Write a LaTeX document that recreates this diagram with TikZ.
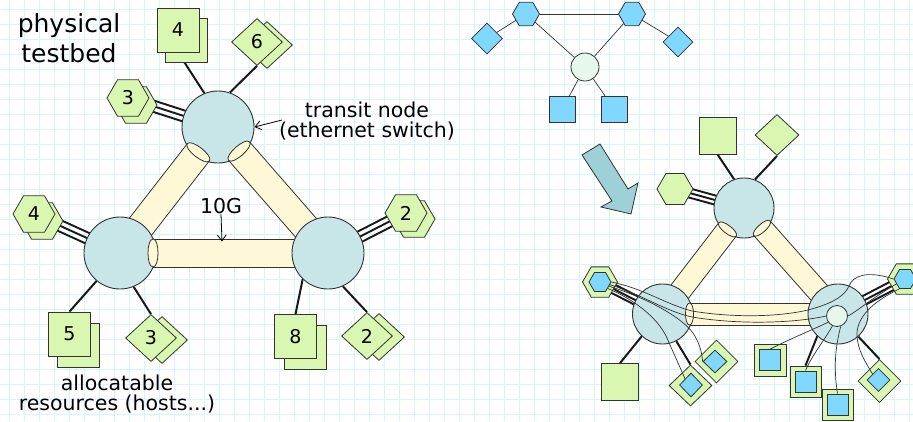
\documentclass[tikz,border=0pt]{standalone}
\usepackage{fontspec}
\setmainfont{DejaVu Sans}
\usetikzlibrary{shapes.geometric,shadows,calc,arrows.meta}
\definecolor{lc}{RGB}{51,51,51}
\definecolor{swfill}{RGB}{200,230,232}
\definecolor{tubec}{RGB}{255,248,214}
\definecolor{hgreen}{RGB}{217,247,176}
\definecolor{hblue}{RGB}{128,216,255}
\definecolor{vgreen}{RGB}{230,248,236}
\definecolor{arrowc}{RGB}{158,208,216}
\definecolor{gridc}{RGB}{214,246,250}
\pgfdeclarelayer{gridl}
\pgfdeclarelayer{edges}
\pgfdeclarelayer{swa}
\pgfdeclarelayer{tba}
\pgfdeclarelayer{swb}
\pgfdeclarelayer{tbb}
\pgfsetlayers{gridl,edges,swa,tba,swb,tbb,main}

\newcommand\tubeseg[6]{%
  \fill[tubefill] ($(#1)!#3!(#2)!#4!90:(#2)$) -- ($(#2)!#4!-90:(#1)$) -- ($(#2)!#4!90:(#1)$) -- ($(#1)!#3!(#2)!#4!-90:(#2)$) -- cycle;
  \draw[tubeline] ($(#1)!#3!(#2)!#4!90:(#2)$) -- ($(#2)!#4!-90:(#1)$);
  \draw[tubeline] ($(#1)!#3!(#2)!#4!-90:(#2)$) -- ($(#2)!#4!90:(#1)$);
  \filldraw[tubefill,tubeline] ($(#1)!#3!(#2)!#4!90:(#2)$)
     .. controls ($(#1)!#5!(#2)!#4!90:(#2)$) and ($(#1)!#5!(#2)!#4!-90:(#2)$) .. ($(#1)!#3!(#2)!#4!-90:(#2)$)
     .. controls ($(#1)!#6!(#2)!#4!-90:(#2)$) and ($(#1)!#6!(#2)!#4!90:(#2)$) .. ($(#1)!#3!(#2)!#4!90:(#2)$) -- cycle;
}
\newcommand\tripleline[3]{%
  \draw[tri] ($(#1)!#3!90:(#2)$) -- ($(#2)!#3!-90:(#1)$);
  \draw[tri] (#1.center) -- (#2.center);
  \draw[tri] ($(#1)!#3!-90:(#2)$) -- ($(#2)!#3!90:(#1)$);%
}

\begin{document}
\begin{tikzpicture}[x=1pt,y=-1pt,
  sw/.style={circle, draw=lc, fill=swfill, line width=0.9pt, inner sep=0pt, minimum size=72pt},
  swsmall/.style={sw, minimum size=60pt},
  tubefill/.style={fill=tubec},
  tubeline/.style={draw=lc, line width=0.8pt},
  host/.style={draw=lc, fill=hgreen, line width=0.8pt, inner sep=0pt, font=\fontsize{19}{22}\selectfont},
  hsq/.style={host, rectangle, minimum width=42pt, minimum height=44pt},
  hdm/.style={host, diamond, minimum width=51pt, minimum height=47pt},
  hhx/.style={host, regular polygon, regular polygon sides=6, minimum size=42pt},
  hstack/.style args={#1/#2}{copy shadow={shadow xshift=#1pt, shadow yshift=-#2pt, fill=hgreen, draw=lc, line width=0.8pt}},
  hlink/.style={line width=2pt, draw=black!90},
  tri/.style={line width=1.9pt, draw=black!90},
  vlink/.style={draw=lc, line width=0.7pt},
  vblue/.style={draw=lc, fill=hblue, line width=0.8pt, inner sep=0pt},
  vhex/.style={vblue, regular polygon, regular polygon sides=6},
  ghex/.style={host, regular polygon, regular polygon sides=6},
  lbl/.style={font=\fontsize{20.5}{20}\selectfont, align=center, inner sep=0pt},
  lblarrow/.style={draw=black, line width=0.8pt, -{Straight Barb[length=6pt,width=9pt]}}
]
\useasboundingbox (0,0) rectangle (913,421);

% grid
\begin{pgfonlayer}{gridl}
\fill[white] (0,0) rectangle (913,421);
\foreach \g in {9,24,...,909} \draw[gridc, line width=0.6pt] (\g,0) -- (\g,421);
\foreach \g in {9,24,...,414} \draw[gridc, line width=0.6pt] (0,\g) -- (913,\g);
\end{pgfonlayer}

% switches
\begin{pgfonlayer}{swa}
\node[sw] (T) at (218,127) {};
\node[swsmall] (T2) at (744,208) {};
\end{pgfonlayer}
\begin{pgfonlayer}{swb}
\node[sw] (L) at (120,253) {};
\node[swsmall] (L2) at (662.5,314) {};
\end{pgfonlayer}
\node[sw] (R) at (328,253) {};
\node[swsmall] (R2) at (838,314) {};

% tubes
\begin{pgfonlayer}{tba}
\tubeseg{T}{L}{32pt}{14pt}{38.67pt}{25.33pt}
\tubeseg{T2}{L2}{27pt}{11pt}{32.33pt}{21.67pt}
\end{pgfonlayer}
\begin{pgfonlayer}{tbb}
\tubeseg{T}{R}{32pt}{14pt}{38.67pt}{25.33pt}
\tubeseg{L}{R}{33pt}{14pt}{39.67pt}{26.33pt}
\tubeseg{T2}{R2}{27pt}{11pt}{32.33pt}{21.67pt}
\tubeseg{L2}{R2}{27pt}{11pt}{32.33pt}{21.67pt}
\end{pgfonlayer}

% left hosts
\node[hsq, hstack={8/10}] (h4) at (178,30) {4};
\node[hdm, hstack={10/3}] (h6) at (257,42) {6};
\node[hhx, hstack={8/7}] (h3a) at (128,98) {3};
\node[hhx, hstack={8/7}] (h4b) at (34,214) {4};
\node[hsq, hstack={9/11}] (h5) at (69.5,334) {5};
\node[hdm, hstack={11/2}] (h3b) at (151,338) {3};
\node[hhx, hstack={8/6}] (h2a) at (406,213) {2};
\node[hsq, hstack={10/11}] (h8) at (295.5,336.5) {8};
\node[hdm, hstack={12/1}] (h2b) at (367,336) {2};

% right hosts
\node[host, rectangle, minimum size=37pt] (gA) at (717.5,135.5) {};
\node[host, diamond, minimum width=44pt, minimum height=41pt] (gB) at (777,135) {};
\node[ghex, minimum size=36pt] (gC) at (675,189) {};
\node[ghex, minimum size=35pt] (hB) at (600,282) {};
\node[vhex, minimum size=22pt] (hBi) at (600,282) {};
\node[host, rectangle, minimum size=37pt] (gD) at (620,382) {};
\node[host, diamond, minimum width=43pt, minimum height=41pt] (d1o) at (690.5,385.5) {};
\node[vblue, diamond, minimum width=23pt, minimum height=24pt] (d1i) at (691,385) {};
\node[host, diamond, minimum width=43pt, minimum height=43pt] (d2o) at (716.5,361.5) {};
\node[vblue, diamond, minimum width=24pt, minimum height=23pt] (d2i) at (715,361.5) {};
\node[ghex, minimum size=35pt] (hC) at (905,279) {};
\node[vhex, minimum size=22pt] (hCi) at (905,279) {};
\node[host, rectangle, minimum size=32pt] (s1o) at (770,360) {};
\node[vblue, rectangle, minimum size=21pt] (s1i) at (770,360) {};
\node[host, rectangle, minimum size=31pt] (s2o) at (805.5,381.5) {};
\node[vblue, rectangle, minimum size=21pt] (s2i) at (805.5,381.5) {};
\node[host, rectangle, minimum size=31pt] (s3o) at (837.5,404.5) {};
\node[vblue, rectangle, minimum size=21pt] (s3i) at (837.5,404.5) {};
\node[host, diamond, minimum size=43pt] (d3o) at (879.5,381) {};
\node[vblue, diamond, minimum size=23pt] (d3i) at (878.5,380) {};
\node[circle, draw=lc, fill=vgreen, line width=0.8pt, minimum size=21pt, inner sep=0pt] (sc) at (837,316) {};

% host links
\begin{pgfonlayer}{edges}
\draw[hlink] (h4.south) -- (T.112);
\draw[hlink] (h6.south) -- (T.71);
\tripleline{h3a}{T}{5.5pt}
\tripleline{h4b}{L}{5.5pt}
\draw[hlink] (h5.north) -- (L.230);
\draw[hlink] (h3b.north) -- (L.292);
\tripleline{R}{h2a}{5.5pt}
\draw[hlink] (h8.north) -- (R.226);
\draw[hlink] (h2b.north) -- (R.294);
\draw[hlink] (gA.south) -- (T2.109);
\draw[hlink] (gB.south) -- (T2.69);
\tripleline{gC}{T2}{4.5pt}
\tripleline{hB}{L2}{4.5pt}
\draw[hlink] (gD.north) -- (L2.227);
\draw[hlink] (d1o.north) -- (L2.297);
\tripleline{R2}{hC}{4.5pt}
\draw[hlink] (s2o.north) -- (R2.227);
\draw[hlink] (d3o.north) -- (R2.312);
\end{pgfonlayer}

% labels
\node[lbl, font=\fontsize{25}{30}\selectfont] (title) at (69,38) {physical\\testbed};
\node[lbl] (transit) at (367,121.5) {transit node\\(ethernet switch)};
\node[lbl] (g10) at (221,206) {10G};
\node[lbl] (alloc) at (117,394) {allocatable\\resources (hosts...)};
\coordinate (tnstart) at (282,120);
\draw[lblarrow] (tnstart) -- (T.east);
\coordinate (tubemark) at (222,241.5);
\draw[lblarrow] (g10.south) -- (tubemark);

% virtual topology
\node[vhex, minimum size=27pt] (vh1) at (526,14) {};
\node[vhex, minimum size=27pt] (vh2) at (632,14) {};
\node[vblue, diamond, minimum size=31pt] (vd1) at (487,38.5) {};
\node[vblue, diamond, minimum size=30pt] (vd2) at (678,42) {};
\node[circle, draw=lc, fill=vgreen, minimum size=28pt, line width=0.8pt, inner sep=0pt] (vc) at (585,67) {};
\node[vblue, rectangle, minimum size=26pt] (vs1) at (562,109.5) {};
\node[vblue, rectangle, minimum size=26pt] (vs2) at (614.5,109.5) {};
\draw[vlink] (vh1) -- (vh2);
\draw[vlink] (vh1) -- (vd1);
\draw[vlink] (vh2) -- (vd2);
\draw[vlink] (vh1) -- (vc);
\draw[vlink] (vh2) -- (vc);
\draw[vlink] (vc) -- (vs1);
\draw[vlink] (vc) -- (vs2);

% big arrow
\draw[draw=lc, fill=arrowc, line width=0.8pt] (582,155) -- (600,144) -- (628,189) -- (638,183) -- (631,214) -- (601,207) -- (612,201) -- cycle;

% embedded virtual links
\draw[vlink] (hBi.east) .. controls (645,289) and (665,304) .. (692,311) .. controls (740,319) and (790,316) .. (815,308) .. controls (835,302) and (845,295) .. (849,286) .. controls (853,276) and (866,270) .. (hCi.west);
\draw[vlink] (hBi.-15) .. controls (645,296) and (665,311) .. (692,317) .. controls (740,325) and (795,323) .. (sc.west);
\draw[vlink] (sc.east) .. controls (856,312) and (872,298) .. (hCi.-150);
\draw[vlink] (sc.215) .. controls (812,330) and (792,338) .. (s1i.north);
\draw[vlink] (sc.245) .. controls (826,338) and (812,355) .. (s2i.north);
\draw[vlink] (sc.-70) .. controls (836,345) and (833,365) .. (s3i.north);
\draw[vlink] (hCi.-120) .. controls (872,302) and (856,318) .. (857,336) .. controls (858,350) and (864,360) .. (d3i.north west);
\draw[vlink] (hBi.-40) .. controls (640,302) and (660,322) .. (667,338) .. controls (673,352) and (679,365) .. (d1i.north west);
\draw[vlink] (hBi.-25) .. controls (650,299) and (682,318) .. (693,333) .. controls (699,342) and (702,352) .. (d2i.west);
\end{tikzpicture}
\end{document}
